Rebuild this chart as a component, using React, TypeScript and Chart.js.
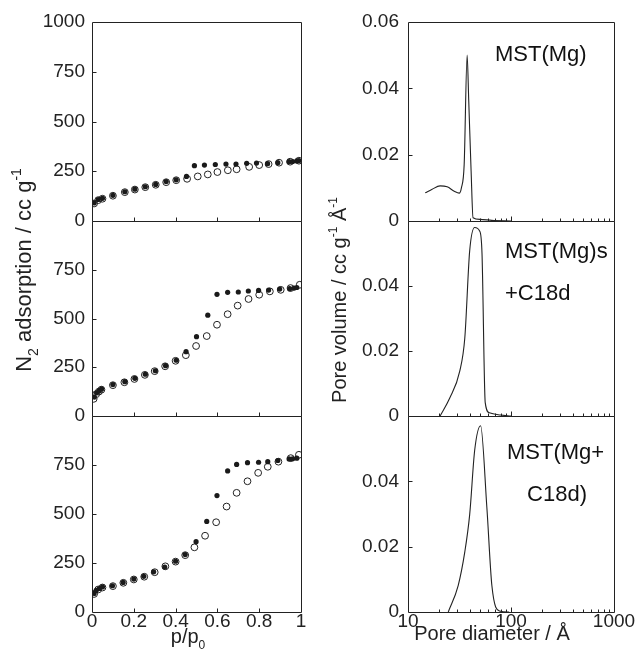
import React, { useEffect, useRef } from 'react';
import { Chart, registerables } from 'chart.js';

Chart.register(...registerables);

const FONT = "'Liberation Sans', Arial, Helvetica, sans-serif";
const INK = '#222';

// ---- tick labels ----
const pTickLabels = ['0', '0.2', '0.4', '0.6', '0.8', '1'];
const isoTickLabels = ['0', '250', '500', '750', '1000'];
const dTickLabels = ['10', '100', '1000'];
const psdTickLabels = ['0', '0.02', '0.04', '0.06'];
const dMinorTicks = [20, 30, 40, 50, 60, 70, 80, 90, 100, 200, 300, 400, 500, 600, 700, 800, 900];

// ---- panel names ----
const panelNames = ['MST(Mg)', 'MST(Mg)s', '+C18d', 'MST(Mg+', 'C18d)'];

// ---- N2 isotherms: MST(Mg) (top) ----
const topDesP = [0.01, 0.03, 0.05, 0.10, 0.157, 0.205, 0.255, 0.305, 0.355, 0.403, 0.452, 0.49, 0.538, 0.59, 0.641, 0.689, 0.74, 0.787, 0.84, 0.889, 0.943, 0.96, 0.98, 0.99];
const topDesV = [91, 108, 114, 129, 147, 160, 172, 184, 198, 207, 224, 278, 281, 284, 286, 286, 290, 291, 288, 293, 298, 299, 302, 303];
const topAdsP = [0.01, 0.03, 0.05, 0.10, 0.157, 0.205, 0.255, 0.305, 0.355, 0.403, 0.455, 0.506, 0.554, 0.60, 0.65, 0.692, 0.752, 0.80, 0.845, 0.895, 0.948, 0.99];
const topAdsV = [88, 105, 112, 127, 145, 158, 170, 182, 195, 205, 212, 224, 234, 246, 255, 260, 272, 281, 286, 293, 298, 303];

// ---- N2 isotherms: MST(Mg)s + C18d (middle) ----
const midDesP = [0.011, 0.022, 0.035, 0.046, 0.10, 0.157, 0.205, 0.255, 0.303, 0.352, 0.403, 0.45, 0.50, 0.554, 0.598, 0.649, 0.70, 0.748, 0.797, 0.845, 0.898, 0.946, 0.967, 0.98];
const midDesV = [97, 119, 130, 139, 161, 176, 193, 214, 232, 258, 286, 330, 407, 517, 624, 634, 636, 641, 644, 646, 651, 653, 656, 659];
const midAdsP = [0.008, 0.02, 0.033, 0.045, 0.10, 0.155, 0.203, 0.253, 0.30, 0.35, 0.40, 0.449, 0.498, 0.549, 0.598, 0.649, 0.697, 0.749, 0.80, 0.851, 0.903, 0.95, 0.994];
const midAdsV = [88, 112, 125, 135, 158, 173, 190, 211, 230, 255, 283, 312, 359, 410, 468, 522, 566, 600, 622, 639, 647, 656, 673];

// ---- N2 isotherms: MST(Mg + C18d) (bottom) ----
const botDesP = [0.01, 0.02, 0.035, 0.05, 0.098, 0.149, 0.20, 0.248, 0.295, 0.348, 0.40, 0.446, 0.498, 0.549, 0.598, 0.649, 0.692, 0.744, 0.797, 0.841, 0.889, 0.943, 0.96, 0.98];
const botDesV = [95, 110, 120, 128, 134, 151, 168, 182, 205, 229, 259, 293, 359, 462, 594, 720, 753, 762, 764, 767, 773, 781, 782, 785];
const botAdsP = [0.01, 0.03, 0.05, 0.10, 0.15, 0.20, 0.25, 0.30, 0.351, 0.40, 0.446, 0.49, 0.541, 0.594, 0.644, 0.692, 0.744, 0.795, 0.841, 0.892, 0.951, 0.99];
const botAdsV = [92, 115, 125, 132, 149, 166, 180, 203, 233, 257, 290, 330, 389, 458, 538, 608, 667, 710, 741, 767, 785, 802];

// ---- pore size distributions ----
const psdTopD = [14.7, 17.0, 20.5, 24.0, 28.1, 31.4, 33.0, 35.1, 37.5, 38.9, 41.0, 42.8, 50, 65, 100];
const psdTopV = [0.0085, 0.0095, 0.0106, 0.0103, 0.009, 0.0084, 0.0100, 0.0170, 0.0500, 0.0360, 0.0150, 0.0010, 0.0005, 0.0002, 0];
const psdMidD = [20.5, 25.5, 31.8, 35.6, 39.7, 44.4, 49.6, 52.3, 56.2, 61.6, 79, 100];
const psdMidV = [0, 0.0056, 0.0138, 0.0240, 0.0508, 0.0580, 0.0569, 0.0500, 0.0041, 0.0010, 0.0003, 0];
const psdBotD = [24.6, 30.7, 35.6, 39.7, 44.4, 50.7, 58.3, 65.2, 77.3, 96];
const psdBotV = [0, 0.0081, 0.0184, 0.0298, 0.0495, 0.0570, 0.0320, 0.0081, 0.0003, 0];

const xy = (xs: number[], ys: number[]) => xs.map((x, i) => ({ x, y: ys[i] }));

const findLabel = (labels: string[], v: number) =>
  labels.find((l) => Math.abs(Number(l) - v) < 1e-9) ?? '';

type Part = { t: string; k?: 'sub' | 'sup' };
function drawRich(ctx: CanvasRenderingContext2D, parts: Part[], cx: number, cy: number, rotate: boolean, size: number) {
  const main = `${size}px ${FONT}`;
  const small = `${Math.round(size * 0.62)}px ${FONT}`;
  let total = 0;
  const widths = parts.map((p) => {
    ctx.font = p.k ? small : main;
    const w = ctx.measureText(p.t).width;
    total += w;
    return w;
  });
  ctx.save();
  ctx.translate(cx, cy);
  if (rotate) ctx.rotate(-Math.PI / 2);
  ctx.textAlign = 'left';
  ctx.textBaseline = 'alphabetic';
  ctx.fillStyle = INK;
  let x = -total / 2;
  const base = size * 0.36;
  parts.forEach((p, i) => {
    ctx.font = p.k ? small : main;
    const dy = p.k === 'sub' ? size * 0.3 : p.k === 'sup' ? -size * 0.45 : 0;
    ctx.fillText(p.t, x, base + dy);
    x += widths[i];
  });
  ctx.restore();
}

const framesPlugin = (axes: string[], yTicks: number[], xTicks: { v: number; len: number }[]) => ({
  id: 'frames',
  afterDatasetsDraw(chart: any) {
    const { ctx, chartArea } = chart;
    const xs = chart.scales.x;
    ctx.save();
    ctx.strokeStyle = INK;
    ctx.lineWidth = 1;
    ctx.beginPath();
    const l = Math.round(chartArea.left) + 0.5;
    const r = Math.round(chartArea.right) + 0.5;
    for (const id of axes) {
      const ys = chart.scales[id];
      const t = Math.round(ys.top) + 0.5;
      const b = Math.round(ys.bottom) + 0.5;
      ctx.rect(l, t, r - l, b - t);
      for (const v of yTicks) {
        const y = Math.round(ys.getPixelForValue(v)) + 0.5;
        ctx.moveTo(l, y);
        ctx.lineTo(l + 4, y);
      }
      for (const tk of xTicks) {
        const x = Math.round(xs.getPixelForValue(tk.v)) + 0.5;
        ctx.moveTo(x, b);
        ctx.lineTo(x, b - tk.len);
      }
    }
    ctx.stroke();
    ctx.restore();
  },
});

const tickFont = { family: FONT, size: 19 };

function isoAxis(weight: number, stackWeight: number, showTop: boolean) {
  return {
    type: 'linear',
    position: 'left',
    stack: 'iso',
    stackWeight,
    weight,
    min: 0,
    max: 1000,
    grid: { display: false, drawTicks: false },
    border: { display: false },
    ticks: {
      stepSize: 250,
      autoSkip: false,
      padding: 7,
      color: INK,
      font: tickFont,
      callback: (v: number) => (!showTop && v >= 1000 ? '' : findLabel(isoTickLabels, v)),
    },
    afterFit: (s: any) => {
      s.width = 92;
    },
  };
}

function psdAxis(weight: number, stackWeight: number, showTop: boolean) {
  return {
    type: 'linear',
    position: 'left',
    stack: 'psd',
    stackWeight,
    weight,
    min: 0,
    max: 0.06,
    grid: { display: false, drawTicks: false },
    border: { display: false },
    ticks: {
      stepSize: 0.02,
      autoSkip: false,
      padding: 9,
      color: INK,
      font: tickFont,
      callback: (v: number) => (!showTop && v > 0.05 ? '' : findLabel(psdTickLabels, v)),
    },
    afterFit: (s: any) => {
      s.width = 88;
    },
  };
}

const filled = (data: any[], yAxisID: string) => ({
  data,
  yAxisID,
  showLine: false,
  pointRadius: 2.6,
  pointBackgroundColor: '#1a1a1a',
  pointBorderColor: '#1a1a1a',
  pointBorderWidth: 0,
});
const open = (data: any[], yAxisID: string) => ({
  data,
  yAxisID,
  showLine: false,
  pointRadius: 3.4,
  pointBackgroundColor: 'rgba(255,255,255,0)',
  pointBorderColor: '#222',
  pointBorderWidth: 1,
});
const curve = (data: any[], yAxisID: string) => ({
  data,
  yAxisID,
  showLine: true,
  borderColor: '#222',
  borderWidth: 1.1,
  pointRadius: 0,
  cubicInterpolationMode: 'monotone',
  fill: false,
});

function leftConfig(): any {
  return {
    type: 'scatter',
    data: {
      datasets: [
        filled(xy(topDesP, topDesV), 'y1'),
        open(xy(topAdsP, topAdsV), 'y1'),
        filled(xy(midDesP, midDesV), 'y2'),
        open(xy(midAdsP, midAdsV), 'y2'),
        filled(xy(botDesP, botDesV), 'y3'),
        open(xy(botAdsP, botAdsV), 'y3'),
      ],
    },
    options: {
      responsive: false,
      animation: false,
      layout: { padding: { left: 0, top: 22, right: 19, bottom: 0 } },
      plugins: { legend: { display: false }, tooltip: { enabled: false } },
      scales: {
        x: {
          type: 'linear',
          position: 'bottom',
          min: 0,
          max: 1,
          grid: { display: false, drawTicks: false },
          border: { display: false },
          ticks: {
            stepSize: 0.2,
            autoSkip: false,
            maxRotation: 0,
            padding: 0,
            color: INK,
            font: { ...tickFont, lineHeight: 1 },
            callback: (v: number) => findLabel(pTickLabels, Number(v.toFixed(2))),
          },
          afterFit: (s: any) => {
            s.height = 43;
          },
        },
        y1: isoAxis(3, 199, true),
        y2: isoAxis(2, 195, false),
        y3: isoAxis(1, 196, false),
      },
    },
    plugins: [
      framesPlugin(['y1', 'y2', 'y3'], [250, 500, 750], [0.2, 0.4, 0.6, 0.8].map((v) => ({ v, len: 4 }))),
      {
        id: 'titlesL',
        afterDraw(chart: any) {
          const ctx = chart.ctx;
          drawRich(ctx, [{ t: 'N' }, { t: '2', k: 'sub' }, { t: ' adsorption / cc g' }, { t: '-1', k: 'sup' }], 23, 270, true, 22);
          drawRich(ctx, [{ t: 'p/p' }, { t: '0', k: 'sub' }], 188, 636, false, 20);
        },
      },
    ],
  };
}

function rightConfig(): any {
  return {
    type: 'scatter',
    data: {
      datasets: [
        curve(xy(psdTopD, psdTopV), 'y1'),
        curve(xy(psdMidD, psdMidV), 'y2'),
        curve(xy(psdBotD, psdBotV), 'y3'),
      ],
    },
    options: {
      responsive: false,
      animation: false,
      layout: { padding: { left: 0, top: 22, right: 27, bottom: 0 } },
      plugins: { legend: { display: false }, tooltip: { enabled: false } },
      scales: {
        x: {
          type: 'logarithmic',
          position: 'bottom',
          min: 10,
          max: 1000,
          grid: { display: false, drawTicks: false },
          border: { display: false },
          ticks: {
            autoSkip: false,
            maxRotation: 0,
            minRotation: 0,
            padding: 0,
            color: INK,
            font: { ...tickFont, lineHeight: 1 },
            callback: (v: number) => findLabel(dTickLabels, v),
          },
          afterFit: (s: any) => {
            s.height = 43;
          },
        },
        y1: psdAxis(3, 199, true),
        y2: psdAxis(2, 195, false),
        y3: psdAxis(1, 196, false),
      },
    },
    plugins: [
      framesPlugin(['y1', 'y2', 'y3'], [0.02, 0.04], dMinorTicks.map((v) => ({ v, len: v === 100 ? 5 : 3 }))),
      {
        id: 'titlesR',
        afterDraw(chart: any) {
          const ctx = chart.ctx;
          drawRich(
            ctx,
            [{ t: 'Pore volume / cc g' }, { t: '-1', k: 'sup' }, { t: ' Å' }, { t: '-1', k: 'sup' }],
            19,
            300,
            true,
            20,
          );
          drawRich(ctx, [{ t: 'Pore diameter / Å' }], 172, 633, false, 20);
          ctx.save();
          ctx.fillStyle = '#111';
          ctx.font = `22px ${FONT}`;
          ctx.textBaseline = 'middle';
          ctx.textAlign = 'left';
          ctx.fillText(panelNames[0], 175, 55);
          ctx.fillText(panelNames[1], 185, 252);
          ctx.fillText(panelNames[2], 185, 294);
          ctx.fillText(panelNames[3], 187, 453);
          ctx.textAlign = 'center';
          ctx.fillText(panelNames[4], 237, 495);
          ctx.restore();
        },
      },
    ],
  };
}

export default function App() {
  const leftRef = useRef<HTMLCanvasElement>(null);
  const rightRef = useRef<HTMLCanvasElement>(null);
  useEffect(() => {
    const l = new Chart(leftRef.current as HTMLCanvasElement, leftConfig());
    const r = new Chart(rightRef.current as HTMLCanvasElement, rightConfig());
    return () => {
      l.destroy();
      r.destroy();
    };
  }, []);
  return (
    <div style={{ position: 'fixed', left: 0, top: 0, width: 641, height: 655, background: '#fff' }}>
      <canvas ref={leftRef} width={320} height={655} style={{ position: 'absolute', left: 0, top: 0, width: 320, height: 655 }} />
      <canvas ref={rightRef} width={321} height={655} style={{ position: 'absolute', left: 320, top: 0, width: 321, height: 655 }} />
    </div>
  );
}
